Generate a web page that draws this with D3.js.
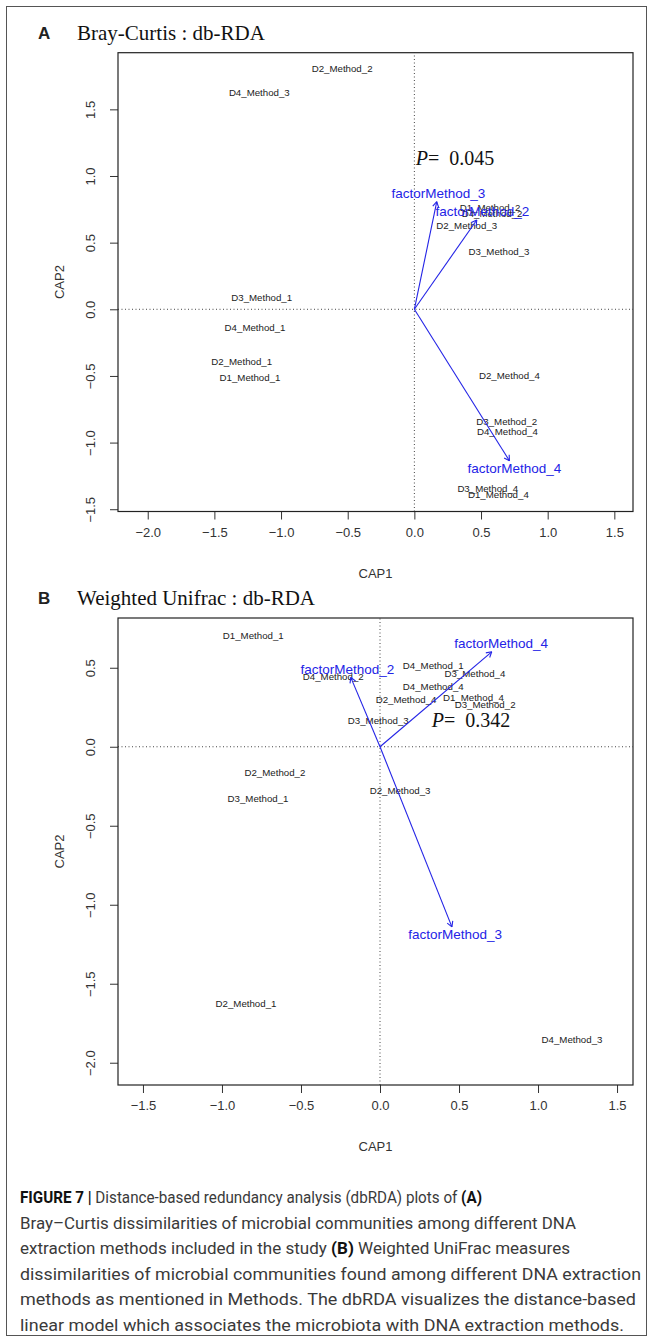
<!DOCTYPE html>
<html lang="en">
<head>
<meta charset="UTF-8">
<title>dbRDA</title>
<script src="https://cdn.jsdelivr.net/npm/d3@7"></script>
<style>
  body { margin: 0; background: #fff; }
  svg { display: block; }
</style>
</head>
<body>
<div class="fig"></div>
<script>
// ---- panel A : Bray-Curtis ----
const sitesA = ["D2_Method_2","D4_Method_3","D1_Method_2","D4_Method_2","D2_Method_3","D3_Method_3",
  "D3_Method_1","D4_Method_1","D2_Method_1","D1_Method_1","D2_Method_4","D3_Method_2","D4_Method_4",
  "D3_Method_4","D1_Method_4"]
const cap1A = [-0.542,-1.163,0.568,0.583,0.393,0.635,-1.145,-1.195,-1.295,-1.233,0.713,0.693,0.698,0.551,0.630]
const cap2A = [1.803,1.623,0.760,0.715,0.625,0.437,0.090,-0.140,-0.393,-0.510,-0.498,-0.843,-0.918,-1.343,-1.388]
const factorsA = ["factorMethod_3","factorMethod_2","factorMethod_4"]
const arrow1A = [0.168,0.468,0.713]
const arrow2A = [0.807,0.670,-1.136]
const pA = "0.045", pPosA = [0.010, 1.083]
const xlimA = [-2.223, 1.640], ylimA = [-1.517, 1.925]
const xticksA = [-2.0,-1.5,-1.0,-0.5,0.0,0.5,1.0,1.5]
const yticksA = [-1.5,-1.0,-0.5,0.0,0.5,1.0,1.5]

// ---- panel B : Weighted Unifrac ----
const sitesB = ["D1_Method_1","D4_Method_2","D3_Method_3","D4_Method_1","D3_Method_4","D4_Method_4",
  "D2_Method_4","D1_Method_4","D3_Method_2","D2_Method_2","D3_Method_1","D2_Method_3","D2_Method_1","D4_Method_3"]
const cap1B = [-0.802,-0.296,-0.011,0.337,0.601,0.337,0.165,0.591,0.665,-0.665,-0.772,0.127,-0.848,1.215]
const cap2B = [0.707,0.447,0.169,0.513,0.465,0.380,0.296,0.313,0.268,-0.166,-0.325,-0.274,-1.622,-1.856]
const factorsB = ["factorMethod_2","factorMethod_4","factorMethod_3"]
const arrow1B = [-0.185,0.707,0.455]
const arrow2B = [0.439,0.601,-1.140]
const pB = "0.342", pPosB = [0.327, 0.127]
const xlimB = [-1.658, 1.601], ylimB = [-2.141, 0.815]
const xticksB = [-1.5,-1.0,-0.5,0.0,0.5,1.0,1.5]
const yticksB = [-2.0,-1.5,-1.0,-0.5,0.0,0.5]

const W = 652, H = 1341
const blue = "#2323e6"
const fmt = d => d3.format(".1f")(d).replace("-", "\u2212")

const svg = d3.select(".fig").append("svg").attr("width", W).attr("height", H)

// outer figure frame
svg.append("rect").attr("x", 6.5).attr("y", 6.5).attr("width", 640).attr("height", 1329)
  .attr("fill", "none").attr("stroke", "#555").attr("stroke-width", 1)

function panel(o) {
  const x = d3.scaleLinear().domain(o.xlim).range([118, 633])
  const y = d3.scaleLinear().domain(o.ylim).range([o.bottom, o.top])
  const g = svg.append("g")

  // panel letter and title
  g.append("text").attr("x", 38).attr("y", o.top - 14).text(o.letter)
    .attr("font-family", "Liberation Sans, Arial").attr("font-weight", "bold").attr("font-size", 17).attr("fill", "#222")
  g.append("text").attr("x", 77).attr("y", o.top - 13).text(o.title)
    .attr("font-family", "Liberation Serif, Times New Roman").attr("font-size", 21).attr("fill", "#111")

  // zero lines
  g.append("line").attr("x1", x.range()[0]).attr("x2", x.range()[1]).attr("y1", y(0)).attr("y2", y(0))
    .attr("stroke", "#444").attr("stroke-dasharray", "1,2.5")
  g.append("line").attr("y1", y.range()[0]).attr("y2", y.range()[1]).attr("x1", x(0)).attr("x2", x(0))
    .attr("stroke", "#444").attr("stroke-dasharray", "1,2.5")

  // axes
  const xa = g.append("g").attr("transform", "translate(0," + o.bottom + ")")
    .call(d3.axisBottom(x).tickValues(o.xticks).tickFormat(fmt).tickSize(8).tickPadding(8))
  const ya = g.append("g").attr("transform", "translate(118,0)")
    .call(d3.axisLeft(y).tickValues(o.yticks).tickFormat(fmt).tickSize(8).tickPadding(4))
  ;[xa, ya].forEach(a => {
    a.select(".domain").remove()
    a.selectAll("line").attr("stroke", "#333")
    a.selectAll("text").attr("font-family", "Liberation Sans, Arial").attr("font-size", 13).attr("fill", "#333")
  })
  ya.selectAll(".tick text").attr("text-anchor", "middle").attr("x", 0).attr("dy", 0)
    .attr("transform", "translate(-26,0) rotate(-90)").attr("dominant-baseline", "middle")

  g.append("text").attr("x", 375.5).attr("y", o.bottom + 66).attr("text-anchor", "middle").text("CAP1")
    .attr("font-family", "Liberation Sans, Arial").attr("font-size", 13).attr("fill", "#333")
  g.append("text").attr("transform", "translate(64," + (o.top + o.bottom) / 2 + ") rotate(-90)")
    .attr("text-anchor", "middle").text("CAP2")
    .attr("font-family", "Liberation Sans, Arial").attr("font-size", 13).attr("fill", "#333")

  // box
  g.append("rect").attr("x", 118).attr("y", o.top).attr("width", 515).attr("height", o.bottom - o.top)
    .attr("fill", "none").attr("stroke", "#222").attr("stroke-width", 1.2)

  // site labels
  g.selectAll(".site").data(o.sites).join("text").attr("class", "site")
    .attr("x", (d, i) => x(o.cap1[i])).attr("y", (d, i) => y(o.cap2[i]))
    .attr("text-anchor", "middle").attr("dominant-baseline", "central")
    .attr("font-family", "Liberation Sans, Arial").attr("font-size", 9.7).attr("fill", "#222").text(d => d)

  // biplot arrows
  o.factors.forEach((f, i) => {
    const x0 = x(0), y0 = y(0), x1 = x(o.ar1[i]), y1 = y(o.ar2[i])
    const len = Math.hypot(x1 - x0, y1 - y0), ux = (x1 - x0) / len, uy = (y1 - y0) / len
    g.append("line").attr("x1", x0).attr("y1", y0).attr("x2", x1).attr("y2", y1)
      .attr("stroke", blue).attr("stroke-width", 1.1)
    const a = Math.atan2(y1 - y0, x1 - x0), hl = 6
    ;[a + Math.PI - 0.52, a + Math.PI + 0.52].forEach(b => {
      g.append("line").attr("x1", x1).attr("y1", y1)
        .attr("x2", x1 + hl * Math.cos(b)).attr("y2", y1 + hl * Math.sin(b))
        .attr("stroke", blue).attr("stroke-width", 1.1)
    })
    const t = g.append("text").text(f).attr("text-anchor", "middle").attr("dominant-baseline", "central")
      .attr("font-family", "Liberation Sans, Arial").attr("font-size", 13.5).attr("fill", blue)
    const hw = t.node().getComputedTextLength() / 2, hh = 8
    const s = Math.min(Math.abs(ux) > 1e-6 ? hw / Math.abs(ux) : 1e9, hh / Math.abs(uy))
    t.attr("x", x1 + ux * s).attr("y", y1 + uy * s)
  })

  // p value
  const p = g.append("text").attr("x", x(o.pPos[0])).attr("y", y(o.pPos[1]))
    .attr("font-family", "Liberation Serif, Times New Roman").attr("font-size", 20).attr("fill", "#111")
  p.append("tspan").attr("font-style", "italic").text("P")
  p.append("tspan").text("=")
  p.append("tspan").attr("dx", 10).text(o.p)
}

panel({letter: "A", title: "Bray-Curtis : db-RDA", top: 52.7, bottom: 511.5,
  xlim: xlimA, ylim: ylimA, xticks: xticksA, yticks: yticksA,
  sites: sitesA, cap1: cap1A, cap2: cap2A, factors: factorsA, ar1: arrow1A, ar2: arrow2A, p: pA, pPos: pPosA})
panel({letter: "B", title: "Weighted Unifrac : db-RDA", top: 618, bottom: 1085,
  xlim: xlimB, ylim: ylimB, xticks: xticksB, yticks: yticksB,
  sites: sitesB, cap1: cap1B, cap2: cap2B, factors: factorsB, ar1: arrow1B, ar2: arrow2B, p: pB, pPos: pPosB})

// caption
const caption = [
  [["FIGURE 7 | ", true], ["Distance-based redundancy analysis (dbRDA) plots of ", false], ["(A)", true]],
  [["Bray\u2013Curtis dissimilarities of microbial communities among different DNA", false]],
  [["extraction methods included in the study ", false], ["(B)", true], [" Weighted UniFrac measures", false]],
  [["dissimilarities of microbial communities found among different DNA extraction", false]],
  [["methods as mentioned in Methods. The dbRDA visualizes the distance-based", false]],
  [["linear model which associates the microbiota with DNA extraction methods.", false]]
]
const captionEnds = [482, 576, 570, 641, 636, 624]
caption.forEach((line, i) => {
  const t = svg.append("text").attr("x", 20).attr("y", 1203 + i * 25.6)
    .attr("font-family", "Roboto, Liberation Sans").attr("font-size", 17).attr("fill", "#3a3a3a")
    .attr("xml:space", "preserve")
    .attr("textLength", captionEnds[i] - 20).attr("lengthAdjust", "spacingAndGlyphs")
  line.forEach(([s, b]) => t.append("tspan").attr("font-weight", b ? "bold" : "normal")
    .attr("fill", b ? "#111" : "#3a3a3a").text(s))
})
</script>
</body>
</html>
